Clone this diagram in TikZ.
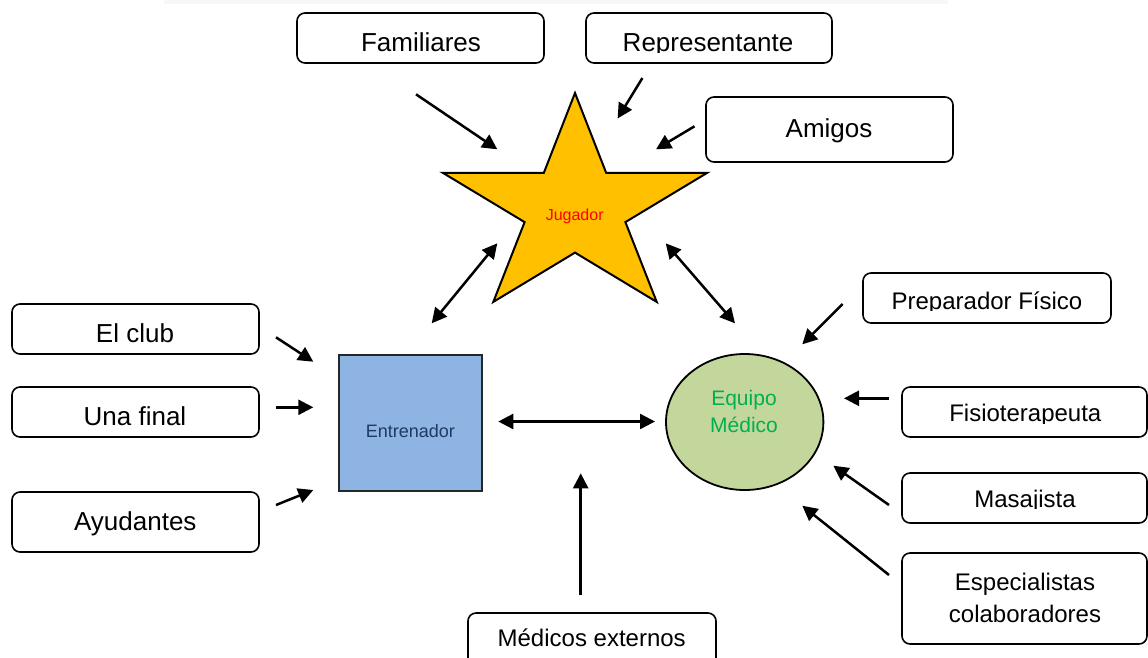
\documentclass[tikz,border=0pt]{standalone}
\usepackage{fontspec}
\setmainfont{Liberation Sans}
\usetikzlibrary{arrows.meta}
\definecolor{starY}{HTML}{FFC000}
\definecolor{sqB}{HTML}{8EB4E3}
\definecolor{sqT}{HTML}{1F3864}
\definecolor{ellG}{HTML}{C3D69B}
\definecolor{ellT}{HTML}{00B050}
\begin{document}
\begin{tikzpicture}[x=1pt,y=-1pt,
  box/.style={draw=black, line width=1.6pt, rounded corners=8pt, fill=white, inner sep=0pt},
  lbl/.style={inner sep=0pt, anchor=base, font=\fontsize{26}{30}\selectfont},
  lblr/.style={inner sep=0pt, anchor=base, font=\fontsize{24}{28}\selectfont},
  arr/.style={line width=2.5pt, -{Triangle[length=15pt,width=15pt]}},
  darr/.style={line width=2.5pt, {Triangle[length=15pt,width=15pt]}-{Triangle[length=15pt,width=15pt]}},
]
\clip (0,0) rectangle (1148,657);
\fill[white] (0,0) rectangle (1148,657);
\fill[black!3] (164,0) rectangle (948,4);

% star
\path[fill=starY, draw=black, line width=2pt, line join=miter]
  (575,93) -- (606.15,172.8) -- (707.2,172.8) -- (625.4,222.1) -- (656.7,301.9)
  -- (575,252.6) -- (493.3,301.9) -- (524.6,222.1) -- (442.8,172.8) -- (543.85,172.8) -- cycle;
\node[inner sep=0pt, anchor=base, text=red, font=\fontsize{16}{19}\selectfont] (jug) at (574.7,220.7) {Jugador};

% Entrenador square
\node[draw=black!85, line width=1.8pt, fill=sqB, minimum width=143pt, minimum height=136pt, inner sep=0pt] (ent) at (410.5,423) {};
\node[inner sep=0pt, anchor=base, text=sqT, font=\fontsize{18}{21}\selectfont] (entt) at (410.3,437.3) {Entrenador};

% Equipo medico ellipse
\draw[fill=ellG, draw=black, line width=1.8pt] (744.7,422) ellipse [x radius=78.7, y radius=68];
\node[inner sep=0pt, align=center, text=ellT, font=\fontsize{21}{27.7}\selectfont] (eq) at (744,411.5) {Equipo\\Médico};

% boxes
\node[box, minimum width=247pt, minimum height=50pt] (fam) at (420.5,38) {};
\node[lbl] (famt) at (421,51) {Familiares};
\node[box, minimum width=246pt, minimum height=50pt] (rep) at (709,38) {};
\begin{scope}
\clip (586,13) rectangle (832,52.5);
\node[lbl] (rept) at (708,51) {Representante};
\end{scope}
\node[box, minimum width=247pt, minimum height=65pt] (ami) at (829.5,129.5) {};
\node[lbl] (amit) at (829,137.4) {Amigos};

\node[box, minimum width=247pt, minimum height=50pt] (club) at (135.5,329) {};
\node[lbl] (clubt) at (135,342.3) {El club};
\node[box, minimum width=247pt, minimum height=50pt] (fin) at (135.5,412) {};
\node[lbl] (fint) at (135,425) {Una final};
\node[box, minimum width=247pt, minimum height=60pt] (ayu) at (135.5,522) {};
\node[lbl] (ayut) at (135.3,530.7) {Ayudantes};

\node[box, minimum width=248pt, minimum height=50pt] (prep) at (987,298) {};
\begin{scope}
\clip (863,273) rectangle (1111,310.5);
\node[lblr] (prept) at (987,309.3) {Preparador Físico};
\end{scope}
\node[box, minimum width=245pt, minimum height=50pt] (fis) at (1024.5,412) {};
\begin{scope}
\clip (902,387) rectangle (1147,423);
\node[lblr] (fist) at (1025.3,421.7) {Fisioterapeuta};
\end{scope}
\node[box, minimum width=245pt, minimum height=50pt] (mas) at (1024.5,498) {};
\begin{scope}
\clip (902,473) rectangle (1147,508.5);
\node[lblr] (mast) at (1025,507.3) {Masajista};
\end{scope}
\node[box, minimum width=245pt, minimum height=91pt] (esp) at (1024.5,598.5) {};
\node[inner sep=0pt, align=center, font=\fontsize{24}{31.7}\selectfont] (espt) at (1025,598) {Especialistas\\colaboradores};

\node[box, minimum width=248pt, minimum height=60pt] (med) at (592,643) {};
\node[lblr] (medt) at (591.7,646.7) {Médicos externos};

% connector end points
\coordinate (famA) at (416,94.3);   \coordinate (famB) at (497.3,149.3);
\coordinate (repA) at (642.4,78);   \coordinate (repB) at (617.6,118.5);
\coordinate (amiA) at (694.5,126.3); \coordinate (amiB) at (656,149.3);
\coordinate (sjA) at (497.3,243.3); \coordinate (sjB) at (431.7,323.3);
\coordinate (seA) at (665.7,243.3); \coordinate (seB) at (735,323.3);
\coordinate (prA) at (842.7,304);   \coordinate (prB) at (802.3,344.3);
\coordinate (fiA) at (889,398.3);   \coordinate (fiB) at (844,398.3);
\coordinate (maA) at (889,505);     \coordinate (maB) at (833.3,465.7);
\coordinate (esA) at (889,575);     \coordinate (esB) at (802.3,505.7);
\coordinate (eeA) at (498.3,421.5); \coordinate (eeB) at (655,421.5);
\coordinate (meA) at (580.7,595);   \coordinate (meB) at (580.7,473.3);
\coordinate (clA) at (276,337.3);   \coordinate (clB) at (313.3,361.7);
\coordinate (ufA) at (276,407.3);   \coordinate (ufB) at (313.3,407.3);
\coordinate (ayA) at (276,505);     \coordinate (ayB) at (313.3,490);

\draw[arr] (famA) -- (famB);
\draw[arr] (repA) -- (repB);
\draw[arr] (amiA) -- (amiB);
\draw[darr] (sjA) -- (sjB);
\draw[darr] (seA) -- (seB);
\draw[arr] (prA) -- (prB);
\draw[arr] (fiA) -- (fiB);
\draw[arr] (maA) -- (maB);
\draw[arr] (esA) -- (esB);
\draw[darr] (eeA) -- (eeB);
\draw[arr] (meA) -- (meB);
\draw[arr] (clA) -- (clB);
\draw[arr] (ufA) -- (ufB);
\draw[arr] (ayA) -- (ayB);
\end{tikzpicture}
\end{document}
